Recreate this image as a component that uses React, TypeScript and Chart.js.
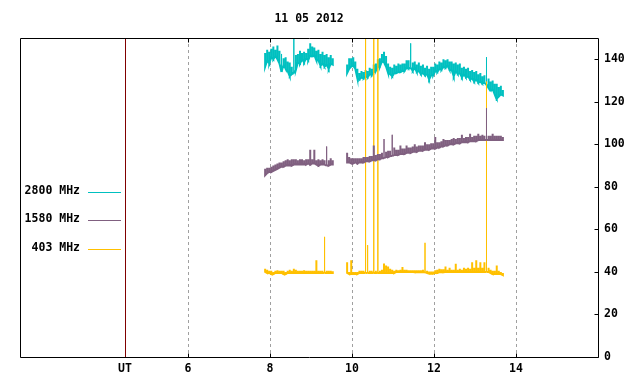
import React, { useEffect, useRef } from 'react';
import { Chart, registerables } from 'chart.js';

Chart.register(...registerables);

// ---------- data ----------
const TITLE = '11 05 2012';
const X_MIN = 1.9;
const X_MAX = 16;
const Y_MIN = 0;
const Y_MAX = 150;
const UT_POS = 4.46;
const X_TICKS = [UT_POS, 6, 8, 10, 12, 14];
const Y_TICKS = [0, 20, 40, 60, 80, 100, 120, 140];

const SERIES_LABELS = ['2800 MHz', '1580 MHz', '403 MHz'];
const SERIES_COLORS = ['#00c0c0', '#806080', '#ffc000'];

// sampling grid (hours UT); each sample has a low and a high reading
const SEG1_START = 7.88;
const SEG2_START = 9.88;
const SAMPLE_STEP = 0.05;
const GAP_TIME = 9.7;

const CYAN_SEG1_LO = [136.5, 139.5, 138, 141, 140, 141.5, 140, 138, 134, 137.5,
  135.5, 134.5, 132, 133, 133.5, 135, 138.5, 138, 140, 138.5,
  140.5, 139.5, 142, 141.5, 142, 139.5, 139.5, 137, 138, 136.5,
  137.5, 135.5, 138, 137.5];
const CYAN_SEG1_HI = [143, 144.5, 143.5, 145, 146, 144.5, 146.5, 144, 142.5, 140.5,
  141, 139, 138.5, 136.5, 150, 142, 142.5, 144, 143, 143.5,
  143, 145, 147.5, 146, 145.5, 144, 144.5, 142.5, 143.5, 142,
  142.5, 141, 142, 140.5];
const CYAN_SEG2_LO = [133.5, 135.5, 136.5, 137, 135.5, 131, 130.5, 131.5, 131, 132,
  131.5, 133, 132.5, 134, 134.5, 136.5, 136.5, 139, 138.5, 136.5,
  133.5, 133, 132, 133.5, 133.5, 134, 134, 134.5, 134.5, 136,
  135.5, 136, 134.5, 136, 134, 134.5, 133, 133.5, 132.5, 133,
  130.5, 132.5, 132.5, 134.5, 134, 135.5, 135, 136.5, 136, 137,
  135, 135, 132, 134.5, 133, 133.5, 131.5, 133, 131.5, 132,
  130.5, 131, 129.5, 130.5, 129, 129.5, 128.5, 129, 128, 126.5,
  125.5, 126, 123.5, 121.5, 122.5, 123.5, 123];
const CYAN_SEG2_HI = [137.5, 140.5, 140.5, 141, 139, 135.5, 133.5, 134.5, 134, 135,
  134.5, 136, 135.5, 137.5, 138, 140, 140.5, 142.5, 143.5, 141.5,
  138, 136.5, 136, 137.5, 137, 138, 137.5, 138, 138, 139.5,
  139.5, 147.5, 138.5, 139, 137.5, 138.5, 137, 137.5, 136, 137,
  135.5, 136.5, 136.5, 138, 137.5, 139, 138.5, 140, 139.5, 140,
  139, 139, 138, 138.5, 137.5, 138, 136, 136.5, 135.5, 136,
  134.5, 135, 134, 134.5, 133, 133.5, 132, 132.5, 141, 131,
  129.5, 130, 128.5, 128.5, 127, 127.5, 125.5];

const PURPLE_SEG1_LO = [85.5, 86.5, 87, 87, 87.5, 88, 88.5, 89, 89.5, 89.5,
  90, 90, 90, 90, 90.5, 90.5, 90.5, 90.5, 90.5, 90.5,
  90.5, 91, 90.5, 91, 91, 90.5, 90, 90.5, 90.5, 90.5,
  90, 90, 90.5, 90.5];
const PURPLE_SEG1_HI = [88.5, 89, 89, 89.5, 90, 90.5, 91, 91.5, 91.5, 92,
  92.5, 93, 92.5, 93, 93, 93, 92.5, 93, 93, 92.5,
  93, 93, 97.5, 93, 97.5, 92.5, 93, 92.5, 93, 92.5,
  99, 92.5, 93.5, 92.5];
const PURPLE_SEG2_LO = [91.5, 91.5, 91, 91, 91.5, 91, 91.5, 91.5, 91.5, 92,
  92, 92, 92.5, 92.5, 92.5, 93, 93, 93.5, 93.5, 94,
  94, 94.5, 94.5, 95, 95, 95, 95.5, 95.5, 95.5, 96,
  96, 96, 96.5, 96.5, 96.5, 97, 97, 97, 97.5, 97.5,
  97.5, 98, 98, 98, 98.5, 98.5, 99, 99, 99.5, 99.5,
  100, 100, 100, 100.5, 100.5, 100.5, 101, 101, 101, 101,
  101.5, 101.5, 101.5, 101.5, 102, 102, 102, 102, 102, 102,
  102, 102, 102, 102, 102, 102, 102];
const PURPLE_SEG2_HI = [96, 94, 93.5, 93.5, 93.5, 93.5, 93.5, 93.5, 94, 94,
  94, 94.5, 94.5, 99.5, 95, 95.5, 95.5, 96, 102.5, 96.5,
  97, 97, 104.5, 98.5, 97.5, 97.5, 99.5, 98, 98, 99.5,
  98.5, 98.5, 99, 100, 99, 99.5, 99.5, 99.5, 101, 100,
  100, 100.5, 100.5, 103.5, 101, 101, 101.5, 102.5, 102, 102,
  102, 102.5, 103, 102.5, 103, 103, 104.5, 103, 103.5, 103.5,
  105, 103.5, 104, 104, 105, 104, 104.5, 104, 117, 104,
  104, 105, 104, 104, 104, 104, 103.5];

const ORANGE_SEG1_LO = [40, 39.5, 39.5, 39, 39, 39.5, 39.5, 39.5, 39.5, 39,
  39, 39.5, 39.5, 39.5, 39.5, 39.5, 39.5, 39.5, 39.5, 39.5,
  39.5, 39.5, 39.5, 39.5, 39.5, 39.5, 39.5, 39.5, 39.5, 39.5,
  39.5, 39.5, 39.5, 39.5];
const ORANGE_SEG1_HI = [41.5, 41, 40.5, 40.5, 40, 40.5, 40.8, 40.5, 40.5, 40.5,
  40, 40.5, 41, 40.5, 41.5, 41, 40.5, 40.5, 40.5, 40.8,
  40.5, 40.5, 40.5, 40.5, 40.5, 45.5, 40.5, 40.5, 40.5, 56.5,
  40.5, 40.5, 40.5, 40.3];
const ORANGE_SEG2_LO = [39.5, 39, 39, 39, 39, 39, 39.5, 39.5, 39.5, 39.5,
  39.5, 39.5, 39.5, 39.5, 39.5, 39.5, 39.5, 39.5, 39.5, 39.5,
  39.5, 39.5, 39.5, 39.5, 40, 40, 40, 40, 40, 40,
  40, 40, 40, 39.8, 39.8, 39.8, 39.8, 39.8, 39.8, 39.5,
  39.2, 39.2, 39.2, 39.5, 39.5, 39.8, 39.8, 39.8, 40, 40,
  40, 40, 40, 40, 40, 40, 40, 40, 40, 40,
  40, 40, 40, 40, 40, 40, 40, 40, 40, 40,
  39.5, 39, 39, 39, 39, 39, 38.5];
const ORANGE_SEG2_HI = [44.5, 40, 45.5, 40, 40, 40, 40.5, 40.5, 40.5, 160,
  52.6, 40.5, 40.5, 160, 40.5, 160, 40.5, 41, 44, 43,
  42.5, 41.5, 41, 40.5, 41, 40.8, 41, 42.3, 41, 41,
  40.8, 40.8, 40.8, 40.8, 40.8, 40.8, 40.8, 41, 53.7, 40.5,
  40.2, 40.2, 40.2, 40.8, 41, 41.5, 41.3, 41.3, 42.5, 41,
  42, 41, 41, 43.8, 41, 41.5, 41, 42, 41.5, 42,
  41.5, 44.5, 42, 45.5, 42, 44.5, 42, 44.5, 129.5, 42,
  41, 40.5, 40.5, 43, 40.5, 40, 39.5];

// ---------- helpers ----------
type Pt = { x: number; y: number | null };
function pushSegment(pts: Pt[], start: number, lo: number[], hi: number[]) {
  lo.forEach((l, i) => {
    const t = start + i * SAMPLE_STEP;
    pts.push({ x: t, y: l });
    pts.push({ x: t, y: hi[i] });
    pts.push({ x: t, y: l });
  });
}
function toPoints(lo1: number[], hi1: number[], lo2: number[], hi2: number[]) {
  const pts: Pt[] = [];
  pushSegment(pts, SEG1_START, lo1, hi1);
  pts.push({ x: GAP_TIME, y: null });
  pushSegment(pts, SEG2_START, lo2, hi2);
  return pts;
}

const FONT_FAMILY = '"DejaVu Sans Mono", "Liberation Mono", monospace';
const FONT_SIZE = 11.5;

const framePlugin = {
  id: 'gnuFrame',
  beforeDatasetsDraw(chart: any) {
    const { ctx, chartArea, scales } = chart;
    const { top, bottom } = chartArea;
    const xs = scales.x;
    ctx.save();
    ctx.lineWidth = 1;
    ctx.strokeStyle = '#a0a0a0';
    ctx.setLineDash([3, 3]);
    X_TICKS.forEach((v) => {
      if (v === UT_POS) return;
      const px = Math.round(xs.getPixelForValue(v)) + 0.5;
      ctx.beginPath();
      ctx.moveTo(px, top);
      ctx.lineTo(px, bottom);
      ctx.stroke();
    });
    ctx.setLineDash([]);
    ctx.strokeStyle = '#800000';
    const ux = Math.round(xs.getPixelForValue(UT_POS)) + 0.5;
    ctx.beginPath();
    ctx.moveTo(ux, top);
    ctx.lineTo(ux, bottom);
    ctx.stroke();
    ctx.restore();
  },
  afterDatasetsDraw(chart: any) {
    const { ctx, chartArea, scales } = chart;
    const { left, right, top, bottom } = chartArea;
    const xs = scales.x;
    const ys = scales.y;
    ctx.save();
    ctx.lineWidth = 1;
    ctx.strokeStyle = '#000';
    const l = Math.round(left) + 0.5;
    const r = Math.round(right) + 0.5;
    const t = Math.round(top) + 0.5;
    const b = Math.round(bottom) + 0.5;
    ctx.beginPath();
    ctx.rect(l, t, r - l, b - t);
    ctx.stroke();
    X_TICKS.forEach((v) => {
      if (v === UT_POS) return;
      const px = Math.round(xs.getPixelForValue(v)) + 0.5;
      ctx.beginPath();
      ctx.moveTo(px, t);
      ctx.lineTo(px, t + 4);
      ctx.moveTo(px, b);
      ctx.lineTo(px, b - 4);
      ctx.stroke();
    });
    Y_TICKS.forEach((v) => {
      const py = Math.round(ys.getPixelForValue(v)) + 0.5;
      ctx.beginPath();
      ctx.moveTo(r, py);
      ctx.lineTo(r - 4, py);
      ctx.stroke();
    });
    ctx.fillStyle = '#000';
    ctx.font = `bold ${FONT_SIZE}px ${FONT_FAMILY}`;
    ctx.textAlign = 'center';
    ctx.textBaseline = 'middle';
    ctx.fillText(TITLE, (left + right) / 2, 19);
    const legendY = [191.5, 219.5, 248.5];
    chart.data.datasets.forEach((ds: any, i: number) => {
      const y = legendY[i];
      ctx.fillStyle = '#000';
      ctx.textAlign = 'right';
      ctx.fillText(ds.label, 80, y);
      ctx.strokeStyle = ds.borderColor;
      ctx.beginPath();
      ctx.moveTo(88, Math.round(y) + 0.5);
      ctx.lineTo(121, Math.round(y) + 0.5);
      ctx.stroke();
    });
    ctx.restore();
  },
};

export default function App() {
  const canvasRef = useRef<HTMLCanvasElement | null>(null);

  useEffect(() => {
    if (!canvasRef.current) return;
    const font = { family: FONT_FAMILY, size: FONT_SIZE, weight: 'bold' as const };
    const seriesData = [
      toPoints(CYAN_SEG1_LO, CYAN_SEG1_HI, CYAN_SEG2_LO, CYAN_SEG2_HI),
      toPoints(PURPLE_SEG1_LO, PURPLE_SEG1_HI, PURPLE_SEG2_LO, PURPLE_SEG2_HI),
      toPoints(ORANGE_SEG1_LO, ORANGE_SEG1_HI, ORANGE_SEG2_LO, ORANGE_SEG2_HI),
    ];
    const orders = [3, 1, 2];
    const chart = new Chart(canvasRef.current, {
      type: 'line',
      data: {
        datasets: SERIES_LABELS.map((label, i) => ({
          label,
          data: seriesData[i],
          borderColor: SERIES_COLORS[i],
          backgroundColor: SERIES_COLORS[i],
          borderWidth: 2,
          pointRadius: 0,
          tension: 0,
          spanGaps: false,
          order: orders[i],
          segment: {
            // isolated spikes are drawn as thin 1px strokes
            borderWidth: (c: any) => (Math.abs(c.p1.parsed.y - c.p0.parsed.y) > 8 ? 1 : 2),
          },
        })),
      },
      options: {
        responsive: false,
        animation: false,
        events: [],
        layout: { padding: { left: 20, top: 38, right: 0, bottom: 0 } },
        plugins: {
          legend: { display: false },
          title: { display: false },
          tooltip: { enabled: false },
        },
        scales: {
          x: {
            type: 'linear',
            position: 'bottom',
            min: X_MIN,
            max: X_MAX,
            afterFit: (s: any) => { s.height = 27; },
            afterBuildTicks: (s: any) => { s.ticks = X_TICKS.map((v) => ({ value: v })); },
            grid: { display: false, drawTicks: false },
            border: { display: false },
            ticks: {
              autoSkip: false,
              maxRotation: 0,
              minRotation: 0,
              padding: 5,
              color: '#000',
              font,
              callback: (v: any) => (v === UT_POS ? 'UT' : String(v)),
            },
          },
          y: {
            type: 'linear',
            position: 'right',
            min: Y_MIN,
            max: Y_MAX,
            afterFit: (s: any) => { s.width = 42; },
            afterBuildTicks: (s: any) => { s.ticks = Y_TICKS.map((v) => ({ value: v })); },
            grid: { display: false, drawTicks: false },
            border: { display: false },
            ticks: { padding: 6, color: '#000', font },
          },
        },
      },
      plugins: [framePlugin],
    } as any);
    return () => chart.destroy();
  }, []);

  return (
    <div style={{ position: 'fixed', left: 0, top: 0, width: 640, height: 384, background: '#fff' }}>
      <canvas ref={canvasRef} width={640} height={384} style={{ display: 'block' }} />
    </div>
  );
}
